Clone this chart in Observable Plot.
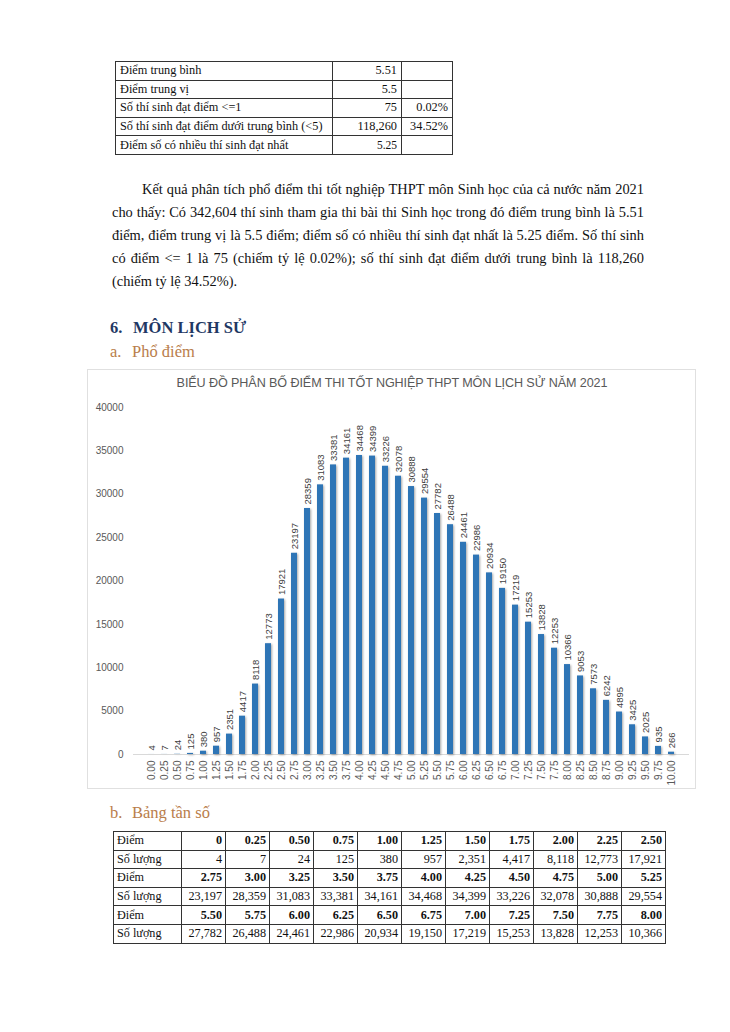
<!DOCTYPE html>
<html>
<head>
<meta charset="utf-8">
<script src="https://cdn.jsdelivr.net/npm/d3@7"></script>
<script src="https://cdn.jsdelivr.net/npm/@observablehq/plot@0.6"></script>
<style>
  html, body { margin: 0; padding: 0; background: #fff; }
  body { width: 730px; height: 1032px; position: relative; overflow: hidden; font-family: "Liberation Serif", "Times New Roman", serif; color: #111; }
  .abs { position: absolute; }
  table.t { border-collapse: collapse; position: absolute; font-family: "Liberation Serif", serif; color: #111; }
  table.t td { border: 1px solid #333; padding: 0 4px; white-space: nowrap; }
  #stats { table-layout: fixed; width: 337px; }
  #stats td { font-size: 12.3px; height: 17.6px; line-height: 17px; }
  #freq td { font-size: 12.2px; height: 17.6px; line-height: 17px; text-align: right; padding: 0 3px; }
  #freq td:first-child { text-align: left; }
  #freq tr.hdr td { font-weight: bold; }
  #freq tr.hdr td:first-child { font-weight: normal; }
  .para div { font-size: 14.4px; height: 23px; line-height: 23px; text-align: justify; text-align-last: justify; white-space: nowrap; }
  .para div.last { text-align-last: left; }
  .h6 { font-size: 16.5px; font-weight: bold; color: #1f3864; }
  .ha { font-size: 16.5px; color: #b97d4b; }
  #chartbox { position: absolute; left: 87px; top: 369px; width: 609px; height: 420px; border: 1px solid #e0e0e0; box-sizing: border-box; }
  #ctitle { position: absolute; left: 87px; top: 376px; width: 610px; text-align: center; font-family: "Liberation Sans", Arial, sans-serif; font-size: 12.6px; color: #595959; letter-spacing: -0.1px; }
  #plot { position: absolute; left: 87px; top: 390px; }
  #plot g[aria-label="bar"] { filter: drop-shadow(1.5px 1px 1px rgba(0,0,0,0.35)); }
</style>
</head>
<body>
<table class="t" id="stats" style="left:115px; top:61px;">
  <colgroup><col style="width:217px"><col style="width:69px"><col style="width:51px"></colgroup>
</table>

<div class="para abs" style="left:112px; top:178px; width:532px;">
  <div style="text-indent:30px">Kết quả phân tích phổ điểm thi tốt nghiệp THPT môn Sinh học của cả nước năm 2021</div>
  <div>cho thấy: Có 342,604 thí sinh tham gia thi bài thi Sinh học trong đó điểm trung bình là 5.51</div>
  <div>điểm, điểm trung vị là 5.5 điểm; điểm số có nhiều thí sinh đạt nhất là 5.25 điểm. Số thí sinh</div>
  <div>có điểm &lt;= 1 là 75 (chiếm tỷ lệ 0.02%); số thí sinh đạt điểm dưới trung bình là 118,260</div>
  <div class="last">(chiếm tỷ lệ 34.52%).</div>
</div>

<div class="abs h6" style="left:110px; top:318px;">6.</div>
<div class="abs h6" style="left:133px; top:318px;">MÔN LỊCH SỬ</div>
<div class="abs ha" style="left:110px; top:342px;">a.</div>
<div class="abs ha" style="left:132px; top:342px;">Phổ điểm</div>

<div id="chartbox"></div>
<div id="ctitle">BIỂU ĐỒ PHÂN BỐ ĐIỂM THI TỐT NGHIỆP THPT MÔN LỊCH SỬ NĂM 2021</div>
<div id="plot"></div>

<div class="abs ha" style="left:110px; top:803px;">b.</div>
<div class="abs ha" style="left:132px; top:803px;">Bảng tần số</div>

<table class="t" id="freq" style="left:113px; top:831px;"></table>

<script>
// ---- Data ----
const statLabels = ["Điểm trung bình", "Điểm trung vị", "Số thí sinh đạt điểm <=1", "Số thí sinh đạt điểm dưới trung bình (<5)", "Điểm số có nhiều thí sinh đạt nhất"];
const statValues = ["5.51", "5.5", "75", "118,260", "5.25"];
const statPercents = ["", "", "0.02%", "34.52%", ""];

const scores = ["0.00","0.25","0.50","0.75","1.00","1.25","1.50","1.75","2.00","2.25","2.50","2.75","3.00","3.25","3.50","3.75","4.00","4.25","4.50","4.75","5.00","5.25","5.50","5.75","6.00","6.25","6.50","6.75","7.00","7.25","7.50","7.75","8.00","8.25","8.50","8.75","9.00","9.25","9.50","9.75","10.00"];
const counts = [4,7,24,125,380,957,2351,4417,8118,12773,17921,23197,28359,31083,33381,34161,34468,34399,33226,32078,30888,29554,27782,26488,24461,22986,20934,19150,17219,15253,13828,12253,10366,9053,7573,6242,4895,3425,2025,935,266];
const yTicks = [0,5000,10000,15000,20000,25000,30000,35000,40000];

// ---- Stats table ----
const st = document.getElementById("stats");
statLabels.forEach((l, i) => {
  const tr = document.createElement("tr");
  const a = document.createElement("td"); a.textContent = l;
  const b = document.createElement("td"); b.textContent = statValues[i]; b.style.textAlign = "right";
  if (i === 4) { b.style.fontSize = "11.5px"; b.style.verticalAlign = "bottom"; }
  const c = document.createElement("td"); c.textContent = statPercents[i]; c.style.textAlign = "right";
  tr.append(a, b, c); st.appendChild(tr);
});

// ---- Frequency table ----
const fmt = d3.format(",");
const ft = document.getElementById("freq");
const cg = document.createElement("colgroup");
cg.innerHTML = '<col style="width:68px">' + Array(11).fill('<col style="width:44px">').join("");
ft.appendChild(cg);
for (let g = 0; g < 3; g++) {
  const idx = d3.range(g * 11, g * 11 + 11);
  const tr1 = document.createElement("tr"); tr1.className = "hdr";
  tr1.innerHTML = "<td>Điểm</td>" + idx.map(i => `<td>${i === 0 ? "0" : scores[i]}</td>`).join("");
  const tr2 = document.createElement("tr");
  tr2.innerHTML = "<td>Số lượng</td>" + idx.map(i => `<td>${fmt(counts[i])}</td>`).join("");
  ft.append(tr1, tr2);
}

// ---- Chart ----
const data = scores.map((s, i) => ({score: s, count: counts[i]}));
const chart = Plot.plot({
  width: 610,
  height: 400,
  marginLeft: 46,
  marginRight: 8,
  marginTop: 17,
  marginBottom: 36,
  style: {fontFamily: "'Liberation Sans', Arial, sans-serif", background: "transparent", overflow: "visible"},
  x: {type: "band", domain: scores, paddingInner: 0.55, paddingOuter: 0.5},
  y: {domain: [0, 40000]},
  marks: [
    Plot.axisY({ticks: yTicks, tickSize: 0, tickPadding: 10, tickFormat: d => String(d), fill: "#595959", fontSize: 10, label: null}),
    Plot.axisX({tickSize: 0, tickRotate: -90, tickPadding: 6, label: null, fill: "#595959", fontSize: 10}),
    Plot.ruleY([0], {stroke: "#d9d9d9"}),
    Plot.barY(data, {x: "score", y: "count", fill: "#2e75b6"}),
    Plot.text(data, {x: "score", y: "count", text: d => String(d.count), rotate: -90, textAnchor: "start", dy: -4, fill: "#404040", fontSize: 9.5})
  ]
});
document.getElementById("plot").appendChild(chart);
</script>
</body>
</html>
